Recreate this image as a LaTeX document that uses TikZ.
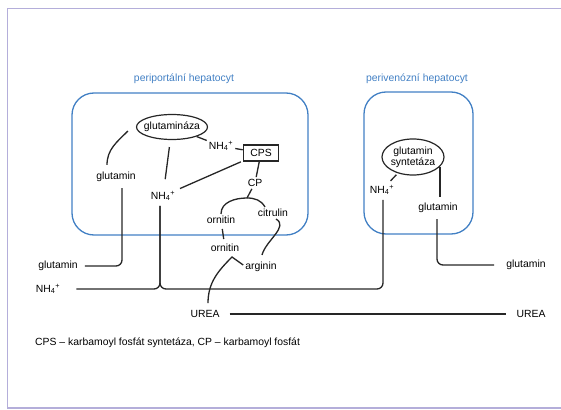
\documentclass[tikz,border=0pt]{standalone}
\usepackage{fontspec}
\setmainfont{Liberation Sans}
\usetikzlibrary{positioning,shapes}

\definecolor{cellblue}{RGB}{66,128,196}
\definecolor{framepurple}{RGB}{180,174,218}
\newcommand{\nhfour}{NH\textsubscript{4}\kern-0.2pt\textsuperscript{+}}

\begin{document}
\begin{tikzpicture}[x=1pt,y=-1pt,
  every node/.style={font=\fontsize{10.4}{12}\selectfont,inner sep=2pt},
  link/.style={line width=1.3pt,black!85},
  cell/.style={draw=cellblue,line width=1.3pt,rounded corners=22pt},
  enzym/.style={draw,ellipse,line width=1.2pt,black!85,text=black,inner ysep=0pt,inner xsep=-6pt},
  celltitle/.style={text=cellblue}]
\useasboundingbox (0,0) rectangle (561,409);
\draw[framepurple,line width=1.2pt] (575,8.5) -- (7.5,8.5) -- (7.5,408) -- (575,408);

% cells
\node[celltitle] (tpp) at (184,79) {periportální hepatocyt};
\node[celltitle] (tpv) at (417,79) {perivenózní hepatocyt};
\draw[cell] (72,93) rectangle (308,235);
\draw[cell] (364,92) rectangle (473,234);

% periportal
\node[enzym,minimum width=71pt,minimum height=25pt] (glz) at (172,127) {glutamináza};
\node (nh1) at (221,146) {\nhfour};
\node[draw,line width=1.6pt,black!85,text=black,minimum width=35pt,minimum height=16pt] (cps) at (261,153) {CPS};
\node (glL) at (116,177) {glutamin};
\node (nh2) at (163,196) {\nhfour};
\node (cp) at (255,183) {CP};
\node (orn1) at (221,220) {ornitin};
\node (cit) at (273,213) {citrulin};
\node (orn2) at (225,248) {ornitin};
\node (arg) at (261,267) {arginin};
\coordinate (cpj) at (247,198);
\coordinate (pk) at (232,257);

% perivenous
\node[enzym,minimum width=62pt,minimum height=36pt,align=center,inner xsep=-3pt] (gs) at (413,157) {glutamin\\[-1pt]syntetáza};
\node (nh3) at (382,190) {\nhfour};
\node (glR) at (438,208) {glutamin};

% outside
\node (glOutL) at (58,266) {glutamin};
\node (nhOut) at (48,289) {\nhfour};
\node (urea) at (205,314) {UREA};
\node (ureaR) at (531,314) {UREA};
\node (glOutR) at (526,265) {glutamin};
\coordinate (jR) at (383,289);
\node[anchor=west] (note) at (33,343) {CPS -- karbamoyl fosfát syntetáza, CP -- karbamoyl fosfát};

% links
\draw[link] ([xshift=-9pt,yshift=5pt]glL.north) to[out=90,in=225] ([xshift=-8pt,yshift=-4pt]glz.west);
\draw[link,shorten <=7pt,shorten >=10pt] (glz) -- (nh2);
\draw[link] (glz) -- (nh1);
\draw[link] (nh1) -- (cps);
\draw[link,shorten <=2pt,shorten >=3pt] (cps) -- (nh2);
\draw[link] (cps) -- (cp);
\draw[link] (cp) -- (cpj);
\draw[link] (orn1.north) to[out=90,in=180] (cpj) to[out=0,in=120] ([xshift=-8pt]cit.north);
\draw[link] ([xshift=3pt]cit.south) to[out=-30,in=75] ([xshift=1pt,yshift=5pt]arg.north);
\draw[link,shorten <=3pt,shorten >=3pt] (orn1) -- (orn2);
\draw[link] ([xshift=3pt,yshift=5pt]urea.north) to[out=90,in=225] (pk) -- ([yshift=2pt]arg.west);
\draw[link,rounded corners=6pt] ([xshift=6pt,yshift=-4pt]glL.south) |- ([xshift=5pt]glOutL.east);
\draw[link,rounded corners=6pt] ([xshift=-3pt,yshift=-3pt]nh2.south) |- ([xshift=14pt]nhOut.east);
\draw[link,rounded corners=6pt] ([xshift=-3pt,yshift=-3pt]nh2.south) |- (jR) -- ([xshift=1pt,yshift=-3pt]nh3.south);
\draw[link,shorten <=2pt,shorten >=3pt] (gs) -- (nh3);
\draw[link] (gs.-20) -- ([yshift=4pt]gs.-20 |- glR.north);
\draw[link,rounded corners=6pt] ([xshift=-1pt,yshift=-4pt]glR.south) |- ([xshift=-10pt]glOutR.west);
\draw[link,shorten <=8pt,shorten >=8pt] (urea) -- (ureaR);
\end{tikzpicture}
\end{document}
